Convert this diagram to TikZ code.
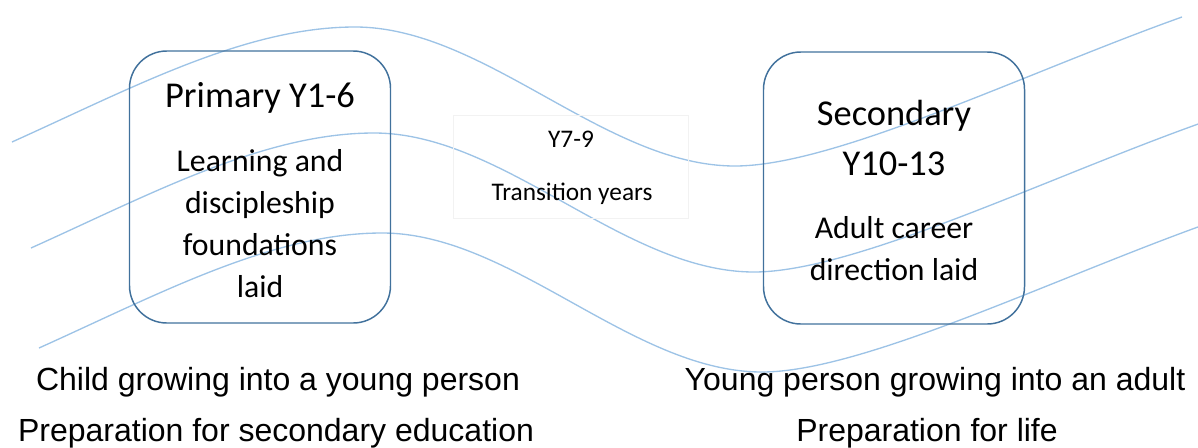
\documentclass[tikz,border=0pt]{standalone}
\usepackage{fontspec}
\setmainfont{Carlito}
\newfontfamily\captionfont{Liberation Sans}
\usepackage{tikz}
\usepackage{xcolor}
\usetikzlibrary{positioning}
\definecolor{boxblue}{HTML}{41719C}
\definecolor{waveblue}{HTML}{9DC3E6}

\begin{document}
\begin{tikzpicture}[x=0.75pt, y=-0.75pt,
    stage/.style={draw=boxblue, line width=1.1pt, rounded corners=28pt, minimum width=195.75pt, minimum height=204pt},
    head/.style={font=\fontsize{27.3}{32}\selectfont, anchor=base},
    body/.style={font=\fontsize{23.8}{28}\selectfont, anchor=base},
    note/.style={font=\fontsize{19}{22}\selectfont, anchor=base},
    caption/.style={font=\captionfont\fontsize{24}{28}\selectfont, anchor=base}]
                        \useasboundingbox (0,0) rectangle (1198,447);
                        \begin{scope}
                            \clip (0,0) rectangle (1198,447);
                            \foreach \dx/\dy in {0/0, 19/106, 27/206}
                                \draw[waveblue, line width=1pt, shift={(\dx,\dy)}]
                                (12,142) .. controls (132,88) and (245,27) .. (355,27)
                                .. controls (485,27) and (605,166) .. (735,166)
                                .. controls (835,166) and (1025,73) .. (1182,17);
                        \end{scope}

                        \node[stage] (pbox) at (260,187) {};
                        \node[stage] (sbox) at (894,188) {};
                        \node[draw=black!5, minimum width=176.25pt, minimum height=77.25pt] (tbox) at (570.5,166.5) {};

                        \node[head] (p0) at (260,107) {Primary Y1-6};
                        \node[body] (p1) at (260,171) {Learning and};
                        \node[body] (p2) at (260,213) {discipleship};
                        \node[body] (p3) at (260,255) {foundations};
                        \node[body] (p4) at (260,297) {laid};

                        \node[note] (t1) at (571,147) {Y7-9};
                        \node[note] (t2) at (572,200) {Transition years};

                        \node[head] (s0) at (894,125) {Secondary};
                        \node[head] (s1) at (894,175) {Y10-13};
                        \node[body] (s2) at (894,238) {Adult career};
                        \node[body] (s3) at (894,280) {direction laid};

                        \node[caption] (c1) at (278,390) {Child growing into a young person};
                        \node[caption] (c2) at (276,441) {Preparation for secondary education};
                        \node[caption] (c3) at (935,390) {Young person growing into an adult};
                        \node[caption] (c4) at (927,441) {Preparation for life};
                    \end{tikzpicture}
\end{document}
